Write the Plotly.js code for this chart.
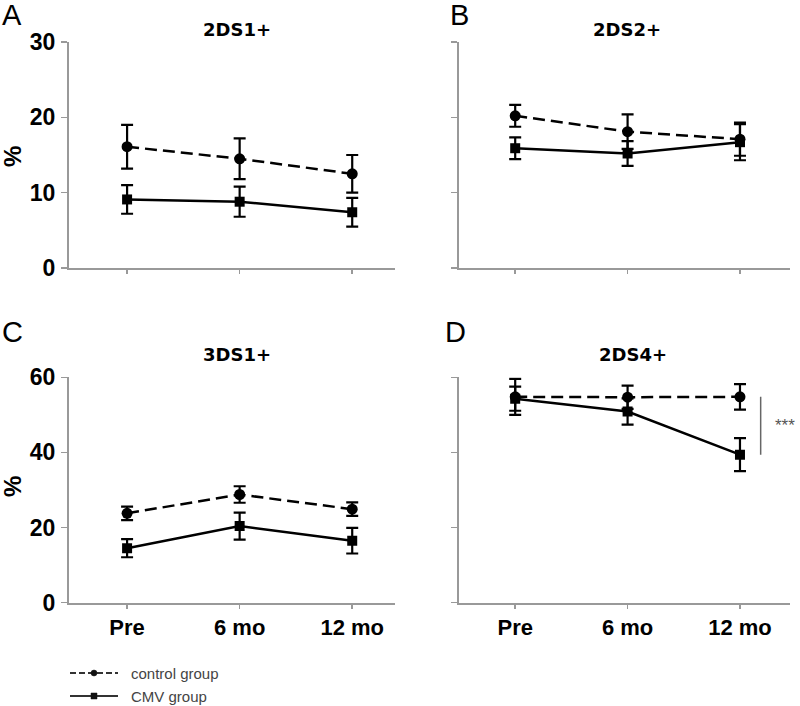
<!DOCTYPE html>
<html><head><meta charset="utf-8">
<script src="https://cdn.plot.ly/plotly-3.0.1.min.js"></script>
<style>html,body{margin:0;padding:0;background:#fff}</style>
</head><body><div id="chart" style="width:800px;height:706px"></div>
<script>
const categories = ['Pre', '6 mo', '12 mo'];
const panelTitles = ['2DS1+', '2DS2+', '3DS1+', '2DS4+'];
const panelLetters = ['A', 'B', 'C', 'D'];
const seriesNames = ['control group', 'CMV group'];

const A_control = [16.1, 14.5, 12.5];
const A_control_err = [2.9, 2.7, 2.5];
const A_cmv = [9.1, 8.8, 7.4];
const A_cmv_err = [1.9, 2.0, 1.9];

const B_control = [20.2, 18.1, 17.1];
const B_control_err = [1.45, 2.3, 2.2];
const B_cmv = [15.9, 15.2, 16.7];
const B_cmv_err = [1.45, 1.65, 2.4];

const C_control = [23.8, 28.8, 24.9];
const C_control_err = [1.8, 2.2, 1.8];
const C_cmv = [14.5, 20.4, 16.5];
const C_cmv_err = [2.4, 3.6, 3.4];

const D_control = [54.8, 54.7, 54.8];
const D_control_err = [4.8, 3.1, 3.4];
const D_cmv = [54.3, 50.9, 39.4];
const D_cmv_err = [3.2, 3.5, 4.4];

const yTicksTop = [0, 10, 20, 30];
const yTicksBottom = [0, 20, 40, 60];
const significance = '***';

const panels = [
  {ctrl: A_control, ce: A_control_err, cmv: A_cmv, me: A_cmv_err, xa: 'x', ya: 'y'},
  {ctrl: B_control, ce: B_control_err, cmv: B_cmv, me: B_cmv_err, xa: 'x2', ya: 'y2'},
  {ctrl: C_control, ce: C_control_err, cmv: C_cmv, me: C_cmv_err, xa: 'x3', ya: 'y3'},
  {ctrl: D_control, ce: D_control_err, cmv: D_cmv, me: D_cmv_err, xa: 'x4', ya: 'y4'}
];

const W = 800, H = 706;
const px = v => v / W;
const py = v => 1 - v / H;
const SANS = 'Liberation Sans, Arial, sans-serif';

const traces = [];
panels.forEach((p, i) => {
  traces.push({
    x: categories, y: p.ctrl, xaxis: p.xa, yaxis: p.ya, type: 'scatter', mode: 'lines+markers',
    name: seriesNames[0], showlegend: false,
    line: {color: '#000', width: 2.5, dash: '12px,6px'},
    marker: {symbol: 'circle', size: 11, color: '#000'},
    error_y: {type: 'data', array: p.ce, visible: true, color: '#000', thickness: 2.2, width: 6}
  });
  traces.push({
    x: categories, y: p.cmv, xaxis: p.xa, yaxis: p.ya, type: 'scatter', mode: 'lines+markers',
    name: seriesNames[1], showlegend: false,
    line: {color: '#000', width: 2.5},
    marker: {symbol: 'square', size: 10, color: '#000'},
    error_y: {type: 'data', array: p.me, visible: true, color: '#000', thickness: 2.2, width: 6}
  });
});

function xaxis(dom, rng, labels, anchor) {
  return {domain: dom, anchor: anchor, type: 'category', range: rng, showline: true, linecolor: '#999', linewidth: 2,
    ticks: 'outside', ticklen: 4, tickwidth: 1.5, tickcolor: '#999', showgrid: false, zeroline: false,
    showticklabels: labels,
    tickfont: {family: SANS, size: 22, color: '#000', weight: 'bold'},
    fixedrange: true};
}
function yaxis(dom, rng, tv, labels, anchor) {
  return {domain: dom, anchor: anchor, range: rng, tickvals: tv, showline: true, linecolor: '#999', linewidth: 2,
    ticks: 'outside', ticklen: 6, tickwidth: 1.5, tickcolor: '#999', showgrid: false, zeroline: false,
    showticklabels: labels,
    tickfont: {family: SANS, size: 23, color: '#000', weight: 'bold'},
    ticklabelstandoff: 1, fixedrange: true};
}

const domXL = [px(69), px(395)], domXR = [px(459), px(790)];
const domYT = [py(268), py(42)], domYB = [py(602.7), py(377.3)];
const rngL = [-0.516, 2.38], rngR = [-0.5, 2.445];

const annotations = [];
const letterPos = [[0, 15], [448, 15], [0, 332], [443, 332]];
const titlePos = [[237, 29], [627, 29], [237, 354], [633, 354]];
panelLetters.forEach((l, i) => {
  annotations.push({xref: 'paper', yref: 'paper', x: px(letterPos[i][0]), y: py(letterPos[i][1]),
    xanchor: 'left', yanchor: 'middle', text: l, showarrow: false, font: {family: SANS, size: 29, color: '#000'}});
  annotations.push({xref: 'paper', yref: 'paper', x: px(titlePos[i][0]), y: py(titlePos[i][1]),
    xanchor: 'center', yanchor: 'middle', text: panelTitles[i], showarrow: false,
    font: {family: 'DejaVu Sans, sans-serif', size: 18, weight: 'bold', color: '#000'}});
});
[[12, 157], [12, 487]].forEach(p => annotations.push({xref: 'paper', yref: 'paper', x: px(p[0]), y: py(p[1]),
  xanchor: 'center', yanchor: 'middle', text: '%', textangle: -90, showarrow: false,
  font: {family: SANS, size: 24, weight: 'bold', color: '#000'}}));
annotations.push({xref: 'x4', yref: 'y4', x: 2.29, y: (D_control[2] + D_cmv[2]) / 2, xanchor: 'left', yanchor: 'middle',
  text: significance, showarrow: false, font: {family: SANS, size: 17, color: '#555'}});

const shapes = [{type: 'line', xref: 'x4', yref: 'y4', x0: 2.184, x1: 2.184, y0: D_control[2], y1: D_cmv[2],
  line: {color: '#666', width: 1.5}}];

// legend key (drawn as decoration in paper coordinates)
const legendRows = [{y: 673, dash: '6px,3px', sym: 'circle', name: seriesNames[0]},
                    {y: 696, dash: 'solid', sym: 'rect', name: seriesNames[1]}];
legendRows.forEach(r => {
  shapes.push({type: 'line', xref: 'paper', yref: 'paper', x0: px(70), x1: px(118), y0: py(r.y), y1: py(r.y),
    line: {color: '#333', width: 2.2, dash: r.dash}});
  shapes.push({type: r.sym, xref: 'paper', yref: 'paper', x0: px(91), x1: px(97), y0: py(r.y - 3), y1: py(r.y + 3),
    fillcolor: '#111', line: {color: '#111', width: 0.5}});
  annotations.push({xref: 'paper', yref: 'paper', x: px(129), y: py(r.y), xanchor: 'left', yanchor: 'middle',
    text: r.name, showarrow: false, font: {family: SANS, size: 15, color: '#444'}});
});

const layout = {
  width: W, height: H, margin: {l: 0, r: 0, t: 0, b: 0}, paper_bgcolor: '#fff', plot_bgcolor: '#fff',
  xaxis: xaxis(domXL, rngL, false, 'y'), yaxis: yaxis(domYT, [0, 30], yTicksTop, true, 'x'),
  xaxis2: xaxis(domXR, rngR, false, 'y2'), yaxis2: yaxis(domYT, [0, 30], yTicksTop, false, 'x2'),
  xaxis3: xaxis(domXL, rngL, true, 'y3'), yaxis3: yaxis(domYB, [0, 60], yTicksBottom, true, 'x3'),
  xaxis4: xaxis(domXR, rngR, true, 'y4'), yaxis4: yaxis(domYB, [0, 60], yTicksBottom, false, 'x4'),
  annotations: annotations, shapes: shapes,
  showlegend: false
};

Plotly.newPlot('chart', traces, layout, {displayModeBar: false, staticPlot: true});
</script></body></html>
